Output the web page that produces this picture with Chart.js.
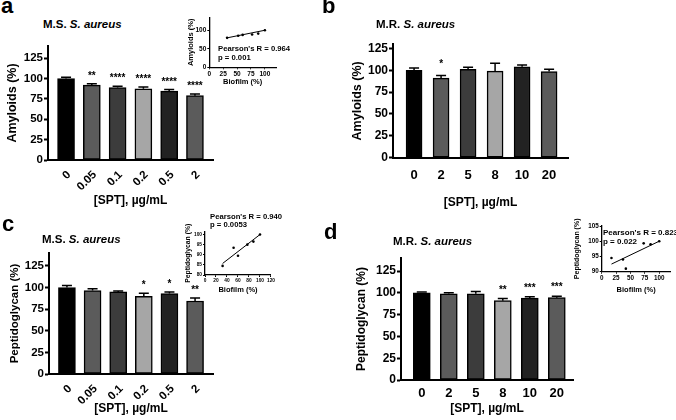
<!DOCTYPE html>
<html><head><meta charset="utf-8">
<script src="https://cdn.jsdelivr.net/npm/chart.js@4/dist/chart.umd.min.js"></script>
<style>
html,body{margin:0;padding:0;background:#fff;}
body{width:676px;height:420px;position:relative;overflow:hidden;font-family:"Liberation Sans",Arial,sans-serif;font-weight:bold;color:#000;}
canvas{position:absolute;}
.t{position:absolute;white-space:nowrap;line-height:1;}
.L{font-size:22px;}
.h{font-size:11.5px;}
.p{font-size:7.7px;}
</style></head><body>

<canvas id="ca" style="left:0;top:36px;width:222px;height:184px" width="222" height="184"></canvas>
<canvas id="cb" style="left:345px;top:35px;width:235px;height:185px" width="235" height="185"></canvas>
<canvas id="cc" style="left:0;top:240px;width:222px;height:180px" width="222" height="180"></canvas>
<canvas id="cd" style="left:345px;top:245px;width:240px;height:175px" width="240" height="175"></canvas>
<canvas id="ia" style="left:180px;top:10px;width:100px;height:80px" width="100" height="80"></canvas>
<canvas id="ic" style="left:180px;top:210px;width:96px;height:90px" width="96" height="90"></canvas>
<canvas id="id" style="left:570px;top:215px;width:106px;height:85px" width="106" height="85"></canvas>

<div class="t L" style="left:1px;top:-5px">a</div>
<div class="t L" style="left:322px;top:-5px">b</div>
<div class="t L" style="left:2px;top:213px">c</div>
<div class="t L" style="left:324px;top:221px">d</div>

<div class="t h" style="left:43px;top:19px">M.S. <i>S. aureus</i></div>
<div class="t h" style="left:376px;top:19px">M.R. <i>S. aureus</i></div>
<div class="t h" style="left:42px;top:234px">M.S. <i>S. aureus</i></div>
<div class="t h" style="left:393px;top:236px">M.R. <i>S. aureus</i></div>

<div class="t p" style="left:218px;top:45px">Pearson's R = 0.964</div>
<div class="t p" style="left:218px;top:54px">p = 0.001</div>
<div class="t p" style="left:210px;top:213px">Pearson's R = 0.940</div>
<div class="t p" style="left:210px;top:221px">p = 0.0053</div>
<div class="t p" style="left:603px;top:229px;font-size:8px">Pearson's R = 0.823</div>
<div class="t p" style="left:603px;top:238px;font-size:8px">p = 0.022</div>

<script>
// ---- data ----
const msDoses = ['0', '0.05', '0.1', '0.2', '0.5', '2'];
const mrDoses = ['0', '2', '5', '8', '10', '20'];
const barColors = ['#000000', '#5b5b5b', '#3c3c3c', '#a6a6a6', '#222222', '#5b5b5b'];

const amyMS = [100, 92, 89, 87.5, 84.5, 79];
const amyMSErr = [101.5, 93.5, 90.5, 89.5, 86.5, 81];
const amyMSSig = ['', '**', '****', '****', '****', '****'];

const amyMR = [100, 91, 101, 99, 104, 98.5];
const amyMRErr = [102.5, 94, 103.5, 108, 106, 101];
const amyMRSig = ['', '*', '', '', '', ''];

const pgMS = [100, 96.5, 95, 90, 93, 84.5];
const pgMSErr = [102.5, 98.5, 96, 93.5, 95, 88];
const pgMSSig = ['', '', '', '*', '*', '**'];

const pgMR = [100, 99, 99, 91, 94, 94.5];
const pgMRErr = [101, 100, 101.5, 93.5, 95.5, 96];
const pgMRSig = ['', '', '', '**', '***', '***'];

// correlation insets (biofilm % vs. marker %)
const bioMS = [32, 52, 60, 77, 88, 100];
const amyCorrMS = [79.5, 85, 87.5, 88.5, 91, 100];
const amyFitMS = [79.5, 100];
const pgCorrMS = [84.5, 93.5, 89.5, 95, 96.5, 100];
const pgFitMS = [85.7, 100];
const bioMR = [17, 37, 42, 73, 85, 100];
const pgCorrMR = [94.5, 94, 91, 99.3, 99, 100];
const pgFitMR = [92.5, 100];

const FAM = '"Liberation Sans", Arial, sans-serif';
Chart.defaults.font.family = FAM;
Chart.defaults.font.weight = 'bold';
Chart.defaults.color = '#000';

const errPlugin = {
  id: 'err',
  afterDatasetsDraw(chart, args, o) {
    if (!o || !o.tops) return;
    const ctx = chart.ctx, xs = chart.scales.x, ys = chart.scales.y;
    ctx.save();
    ctx.strokeStyle = '#000';
    ctx.lineWidth = 1.5;
    ctx.fillStyle = '#000';
    o.tops.forEach((t, i) => {
      const px = xs.getPixelForValue(i);
      const pv = ys.getPixelForValue(o.values[i]);
      const pt = ys.getPixelForValue(t);
      ctx.beginPath();
      ctx.moveTo(px, pv); ctx.lineTo(px, pt);
      ctx.moveTo(px - o.cap, pt); ctx.lineTo(px + o.cap, pt);
      ctx.stroke();
      if (o.sig[i]) {
        ctx.font = 'bold ' + o.sfs + 'px ' + FAM;
        ctx.textAlign = 'center';
        ctx.textBaseline = 'alphabetic';
        ctx.fillText(o.sig[i], px, pt - o.gap);
      }
    });
    ctx.restore();
  }
};

function barChart(id, labels, vals, tops, sig, yTitle, L) {
  new Chart(document.getElementById(id), {
    type: 'bar',
    plugins: [errPlugin],
    data: {
      datasets: [{
        data: vals.map((v, i) => ({ x: i, y: v })),
        backgroundColor: barColors,
        borderColor: '#000',
        borderWidth: 1.5,
        borderSkipped: false,
        barThickness: L.barW
      }]
    },
    options: {
      responsive: false, animation: false, events: [],
      layout: { padding: { top: L.pt, right: L.pr, left: 0, bottom: 0 } },
      plugins: {
        legend: { display: false }, tooltip: { enabled: false },
        err: { tops: tops, values: vals, sig: sig, cap: 5, gap: L.gap, sfs: 10 }
      },
      scales: {
        x: {
          type: 'linear', offset: false, min: L.xmin, max: L.xmax,
          grid: { display: false, drawTicks: false },
          border: { color: '#000', width: 2 },
          afterBuildTicks: s => { s.ticks = labels.map((_, i) => ({ value: i })); },
          ticks: {
            callback: v => labels[v], autoSkip: false,
            maxRotation: L.rot, minRotation: L.rot, padding: L.xtp, labelOffset: L.lo,
            font: { size: L.xfs, weight: 'bold' }, color: '#000'
          },
          title: { display: true, text: '[SPT], µg/mL', font: { size: 12, weight: 'bold' }, color: '#000', padding: { top: 0, bottom: L.xtb } },
          afterFit: s => { s.height = L.xh; }
        },
        y: {
          min: 0, max: L.ymax,
          grid: { drawOnChartArea: false, drawTicks: true, tickLength: 4, tickColor: '#000', tickWidth: 2 },
          border: { color: '#000', width: 2 },
          afterBuildTicks: s => { s.ticks = [0, 25, 50, 75, 100, 125].map(v => ({ value: v })); },
          ticks: { padding: 1, font: { size: L.yfs, weight: 'bold' }, color: '#000' },
          title: { display: true, text: yTitle, font: { size: L.ytfs, weight: 'bold' }, color: '#000', padding: { top: L.ytp, bottom: 0 } },
          afterFit: s => { s.width = L.yw; }
        }
      }
    }
  });
}

barChart('ca', msDoses, amyMS, amyMSErr, amyMSSig, 'Amyloids (%)',
  { barW: 17, pt: 10, pr: 9, yw: 48, xh: 60, xmin: -0.7, xmax: 5.7, ymax: 140, rot: 45, xtp: 8, lo: 3, xfs: 11.5, xtb: 12, yfs: 11.5, ytfs: 12.5, ytp: 5.5, gap: 5 });
barChart('cb', mrDoses, amyMR, amyMRErr, amyMRSig, 'Amyloids (%)',
  { barW: 16, pt: 9, pr: 12, yw: 48, xh: 62.3, xmin: -0.78, xmax: 5.7, ymax: 130, rot: 0, xtp: 9.5, lo: 0, xfs: 13, xtb: 9.8, yfs: 12, ytfs: 12.5, ytp: 4.8, gap: 8 });
barChart('cc', msDoses, pgMS, pgMSErr, pgMSSig, 'Peptidoglycan (%)',
  { barW: 17, pt: 13, pr: 9, yw: 49, xh: 46, xmin: -0.7, xmax: 5.7, ymax: 140, rot: 45, xtp: 8, lo: 3, xfs: 11.5, xtb: 4, yfs: 11.5, ytfs: 11.5, ytp: 7.5, gap: 5 });
barChart('cd', mrDoses, pgMR, pgMRErr, pgMRSig, 'Peptidoglycan (%)',
  { barW: 17, pt: 13, pr: 12, yw: 56, xh: 40, xmin: -0.77, xmax: 5.6, ymax: 140, rot: 0, xtp: 5.2, lo: 0, xfs: 13, xtb: 3.8, yfs: 12, ytfs: 12, ytp: 9.8, gap: 6 });

function corrChart(id, xs, ys, fit, yTitle, L) {
  new Chart(document.getElementById(id), {
    type: 'scatter',
    data: {
      datasets: [
        { data: xs.map((x, i) => ({ x: x, y: ys[i] })), pointRadius: 1.3, pointBackgroundColor: '#000', pointBorderWidth: 0 },
        { data: [{ x: xs[0], y: fit[0] }, { x: xs[xs.length - 1], y: fit[1] }], showLine: true, borderColor: '#000', borderWidth: 1, pointRadius: 0 }
      ]
    },
    options: {
      responsive: false, animation: false, events: [],
      layout: { padding: { top: L.pt, right: L.pr, left: 0, bottom: 0 } },
      plugins: { legend: { display: false }, tooltip: { enabled: false } },
      scales: {
        x: {
          type: 'linear', min: 0, max: L.xmax,
          grid: { drawOnChartArea: false, drawTicks: true, tickLength: 2, tickColor: '#000', tickWidth: 1 },
          border: { color: '#000', width: 1.3 },
          afterBuildTicks: s => { s.ticks = L.xticks.map(v => ({ value: v })); },
          ticks: { padding: 1, font: { size: L.tfs, weight: 'bold' }, color: '#000', maxRotation: 0, autoSkip: false },
          title: { display: true, text: 'Biofilm (%)', font: { size: 7.5, weight: 'bold' }, color: '#000', padding: { top: 0, bottom: L.xtb } },
          afterFit: s => { s.height = L.xh; }
        },
        y: {
          min: L.ymin, max: L.ymax,
          grid: { drawOnChartArea: false, drawTicks: true, tickLength: 2, tickColor: '#000', tickWidth: 1 },
          border: { color: '#000', width: 1.3 },
          afterBuildTicks: s => { s.ticks = L.yticks.map(v => ({ value: v })); },
          ticks: { padding: 1, font: { size: L.tfs, weight: 'bold' }, color: '#000' },
          title: { display: true, text: yTitle, font: { size: L.ytfs, weight: 'bold' }, color: '#000', padding: { top: L.ytp, bottom: 0 } },
          afterFit: s => { s.width = L.yw; }
        }
      }
    }
  });
}

corrChart('ia', bioMS, amyCorrMS, amyFitMS, 'Amyloids (%)',
  { pt: 7.3, pr: 3.3, yw: 29.3, xh: 22.7, xmax: 120, xticks: [0, 25, 50, 75, 100], ymin: 0, ymax: 135, yticks: [0, 25, 50, 75, 100, 125], tfs: 6.5, xtb: 3.5, ytfs: 7.5, ytp: 6.5 });
corrChart('ic', bioMS, pgCorrMS, pgFitMS, 'Peptidoglycan (%)',
  { pt: 21.5, pr: 5, yw: 25, xh: 25, xmax: 120, xticks: [0, 20, 40, 60, 80, 100, 120], ymin: 80, ymax: 101.5, yticks: [80, 85, 90, 95, 100], tfs: 4.8, xtb: 5.5, ytfs: 6.8, ytp: 4.3 });
corrChart('id', bioMR, pgCorrMR, pgFitMR, 'Peptidoglycan (%)',
  { pt: 11, pr: 5.3, yw: 31.7, xh: 28.3, xmax: 120, xticks: [0, 25, 50, 75, 100], ymin: 90, ymax: 105, yticks: [90, 95, 100, 105], tfs: 6.3, xtb: 5.5, ytfs: 7, ytp: 2.8 });
</script>
</body></html>
